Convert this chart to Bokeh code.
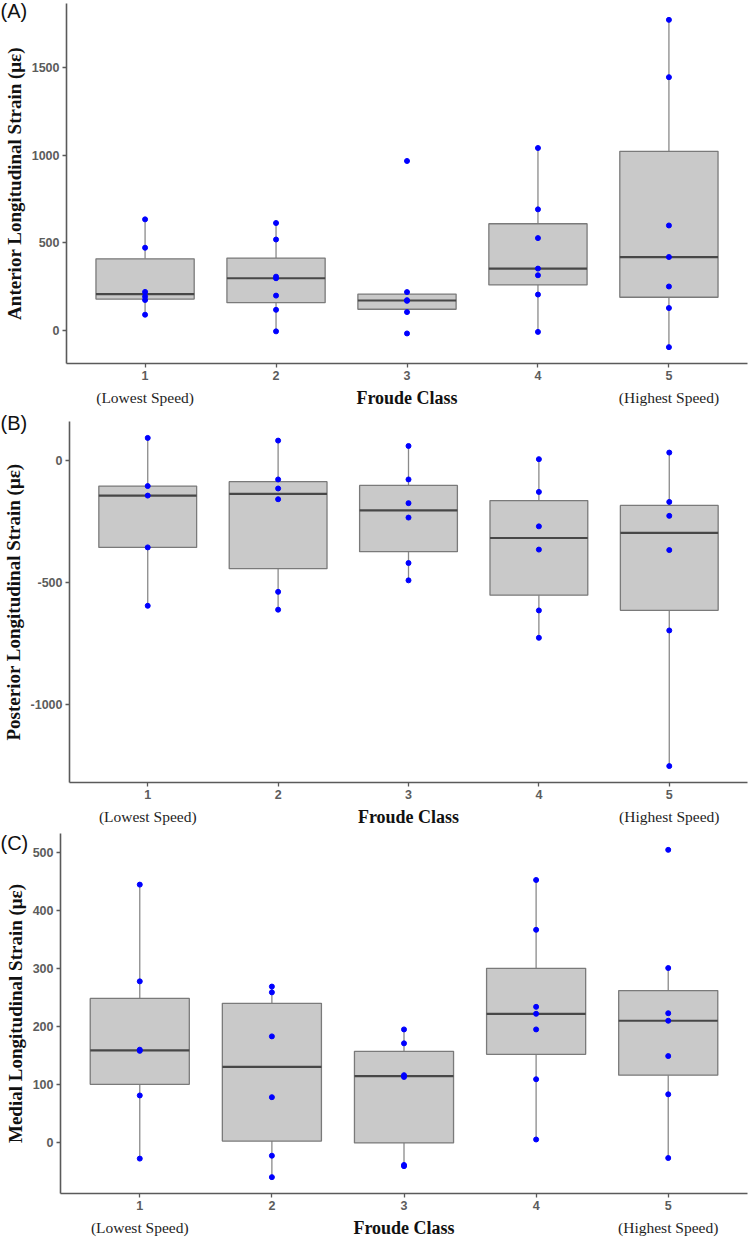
import numpy as np
from bokeh.plotting import figure
from bokeh.layouts import column
from bokeh.models import FixedTicker, Range1d, Label
from bokeh.embed import file_html
from bokeh.resources import INLINE

# Froude classes (x positions) and their text annotations
classes = [1, 2, 3, 4, 5]
class_notes = {1: "(Lowest Speed)", 5: "(Highest Speed)"}
x_title = "Froude Class"

# Longitudinal strain (microstrain) per Froude class, one list per class
anterior = [
    [89, 173, 193, 219, 471, 633],
    [-6, 117, 198, 297, 306, 518, 612],
    [-18, 104, 168, 172, 218, 966],
    [-9, 204, 314, 352, 526, 690, 1040],
    [-96, 127, 250, 418, 598, 1444, 1771],
]
posterior = [
    [-596, -357, -145, -106, 91],
    [-612, -539, -160, -116, -79, 80],
    [-492, -421, -235, -176, -79, 58],
    [-727, -615, -366, -271, -130, 4],
    [-1252, -697, -368, -228, -171, 31],
]
medial = [
    [-28, 81, 158, 160, 278, 445],
    [-60, -23, 78, 183, 259, 269],
    [-41, -39, 113, 116, 171, 195],
    [5, 109, 195, 222, 234, 367, 453],
    [-27, 83, 149, 210, 223, 301, 505],
]

anterior_ticks = [0, 500, 1000, 1500]
posterior_ticks = [-1000, -500, 0]
medial_ticks = [0, 100, 200, 300, 400, 500]

W = 756
X_LO, X_HI = 0.4, 5.6
BOX_W = 0.75
AXIS_COL = "#5a5a5a"
TICK_TXT = "#5c5c5c"


def box_stats(vals):
    v = np.asarray(vals, dtype=float)
    q1, med, q3 = np.percentile(v, [25, 50, 75])
    iqr = q3 - q1
    hi = v[v <= q3 + 1.5 * iqr].max()
    lo = v[v >= q1 - 1.5 * iqr].min()
    return q1, med, q3, lo, hi


def panel(groups, ticks, ylabel, tag, H, frame_l, frame_t, frame_b, tag_cy):
    """One boxplot panel. The plotting frame fills the whole canvas; the axes are
    pinned at the edge of the data area so that margin texts are not clipped."""
    allv = np.concatenate([np.asarray(g, float) for g in groups])
    lo, hi = allv.min(), allv.max()
    pad = 0.05 * (hi - lo)
    y_lo, y_hi = lo - pad, hi + pad

    frame_r = 747
    dx = (X_HI - X_LO) / (frame_r - frame_l)
    dy = (y_hi - y_lo) / (frame_b - frame_t)
    x_start, x_end = X_LO - frame_l * dx, X_HI + (W - frame_r) * dx
    y_start, y_end = y_lo - (H - frame_b) * dy, y_hi + frame_t * dy

    p = figure(width=W, height=H, output_backend="svg", toolbar_location=None,
               x_range=Range1d(x_start, x_end), y_range=Range1d(y_start, y_end),
               min_border=0)
    p.outline_line_color = None
    p.background_fill_color = "white"
    p.border_fill_color = "white"
    p.xgrid.visible = False
    p.ygrid.visible = False

    q1s, meds, q3s, los, his = zip(*[box_stats(g) for g in groups])

    # whiskers
    p.segment(x0=classes, y0=q3s, x1=classes, y1=his, line_color="#8a8a8a", line_width=1.3)
    p.segment(x0=classes, y0=q1s, x1=classes, y1=los, line_color="#8a8a8a", line_width=1.3)
    # boxes
    p.vbar(x=classes, width=BOX_W, bottom=q1s, top=q3s,
           fill_color="#c9c9c9", line_color="#7a7a7a", line_width=1.3)
    # medians
    p.segment(x0=[c - BOX_W / 2 for c in classes], y0=meds,
              x1=[c + BOX_W / 2 for c in classes], y1=meds,
              line_color="#474747", line_width=2.2)
    # observations
    xs = [c for c, g in zip(classes, groups) for _ in g]
    ys = [v for g in groups for v in g]
    p.scatter(x=xs, y=ys, size=5, color="#0000ff", line_color="#0000ff")

    xa, ya = p.xaxis[0], p.yaxis[0]
    xa.fixed_location = y_lo
    xa.bounds = (X_LO, X_HI)
    ya.fixed_location = X_LO
    ya.bounds = (y_lo, y_hi)
    for ax in (xa, ya):
        ax.axis_line_color = AXIS_COL
        ax.axis_line_width = 1.6
        ax.major_tick_line_color = AXIS_COL
        ax.major_tick_line_width = 1.3
        ax.major_tick_out = 4
        ax.major_tick_in = 0
        ax.minor_tick_line_color = None
        ax.major_label_text_font = "Liberation Sans"
        ax.major_label_text_font_style = "bold"
        ax.major_label_text_font_size = "12.5px"
        ax.major_label_text_color = TICK_TXT
        ax.major_label_standoff = 3

    xa.ticker = FixedTicker(ticks=classes)
    ya.ticker = FixedTicker(ticks=ticks)
    ya.major_label_overrides = {t: str(t) for t in ticks}
    ya.axis_label = ylabel
    ya.axis_label_text_font = "Liberation Serif"
    ya.axis_label_text_font_style = "bold"
    ya.axis_label_text_font_size = "19px"
    ya.axis_label_text_color = "#111111"
    ya.axis_label_standoff = 4

    # second line under the class numbers
    note_y = y_lo - 34 * dy
    for c, note in class_notes.items():
        p.add_layout(Label(x=c, y=note_y, text=note, text_align="center",
                           text_baseline="middle", text_font="Liberation Serif",
                           text_font_size="15.5px", text_color="#1e1e1e"))
    p.add_layout(Label(x=3, y=note_y, text=x_title, text_align="center",
                       text_baseline="middle", text_font="Liberation Serif",
                       text_font_style="bold", text_font_size="18px",
                       text_color="#111111"))
    # panel tag in the top-left corner
    p.add_layout(Label(x=x_start, y=y_end - tag_cy * dy, text=tag,
                       text_align="left", text_baseline="middle",
                       text_font="Liberation Sans", text_font_size="20px",
                       text_color="#111111"))
    return p


pA = panel(anterior, anterior_ticks, "Anterior Longitudinal Strain (με)", "(A)",
           409, 66, 3, 363, 10.5)
pB = panel(posterior, posterior_ticks, "Posterior Longitudinal Strain (με)", "(B)",
           418, 69, 12, 373, 13)
pC = panel(medial, medial_ticks, "Medial Longitudinal Strain (με)", "(C)",
           415, 60, 6, 366, 15.5)

layout = column(pA, pB, pC, spacing=0)
open("out.html", "w").write(file_html(layout, INLINE))
